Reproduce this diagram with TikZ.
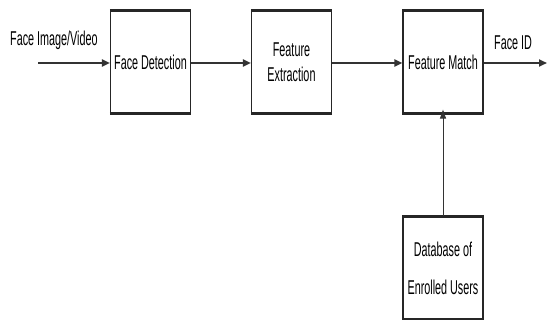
\documentclass[tikz,border=0pt]{standalone}
\usepackage{fontspec}
\setmainfont{Liberation Sans}
\newfontfamily\condfont[FakeStretch=0.54]{Liberation Sans}
\usetikzlibrary{arrows.meta}
\begin{document}
\begin{tikzpicture}[x=1pt,y=-1pt,
  blk/.style={draw=black!85, line width=1.1pt, minimum width=80pt, minimum height=102pt,
              inner sep=0pt, align=center, font=\condfont\fontsize{20}{25}\selectfont},
  lbl/.style={font=\condfont\fontsize{20}{24}\selectfont, inner sep=0pt},
  flow/.style={draw=black!80, line width=1.8pt, -{Triangle[length=8pt,width=7pt]}},
  thin/.style={draw=black!80, line width=0.8pt, -{Triangle[length=9pt,width=6pt]}}]
\useasboundingbox (0,0) rectangle (547,320);

% processing blocks
\node[blk] (det) at (150.5,62) {Face Detection};
\node[blk] (ext) at (291.5,62) {Feature\\Extraction};
\node[blk] (mat) at (443,62) {Feature Match};
\node[blk, font=\condfont\fontsize{20}{38}\selectfont] (db) at (443,268) {Database of\\Enrolled Users};

% heavier top and bottom edges
\foreach \b in {det,ext,mat,db}{
  \draw[line width=3pt, black!85] (\b.north west) -- (\b.north east);
  \draw[line width=3pt, black!85] (\b.south west) -- (\b.south east);
}

% input and output points
\coordinate (in) at (38,63);
\coordinate (out) at (547,63);

% connectors
\draw[flow] (in) -- (det.west |- in);
\draw[flow] (det.east |- in) -- (ext.west |- in);
\draw[flow] (ext.east |- in) -- (mat.west |- in);
\draw[flow] (mat.east |- in) -- (out);
\draw[thin] (db.north) -- ([yshift=4pt]mat.south);

% labels on the input and output lines
\node[lbl, anchor=south west] (inlbl) at (10,50) {Face Image/Video};
\node[lbl, anchor=south west] (outlbl) at (494,50) {Face ID};
\end{tikzpicture}
\end{document}
